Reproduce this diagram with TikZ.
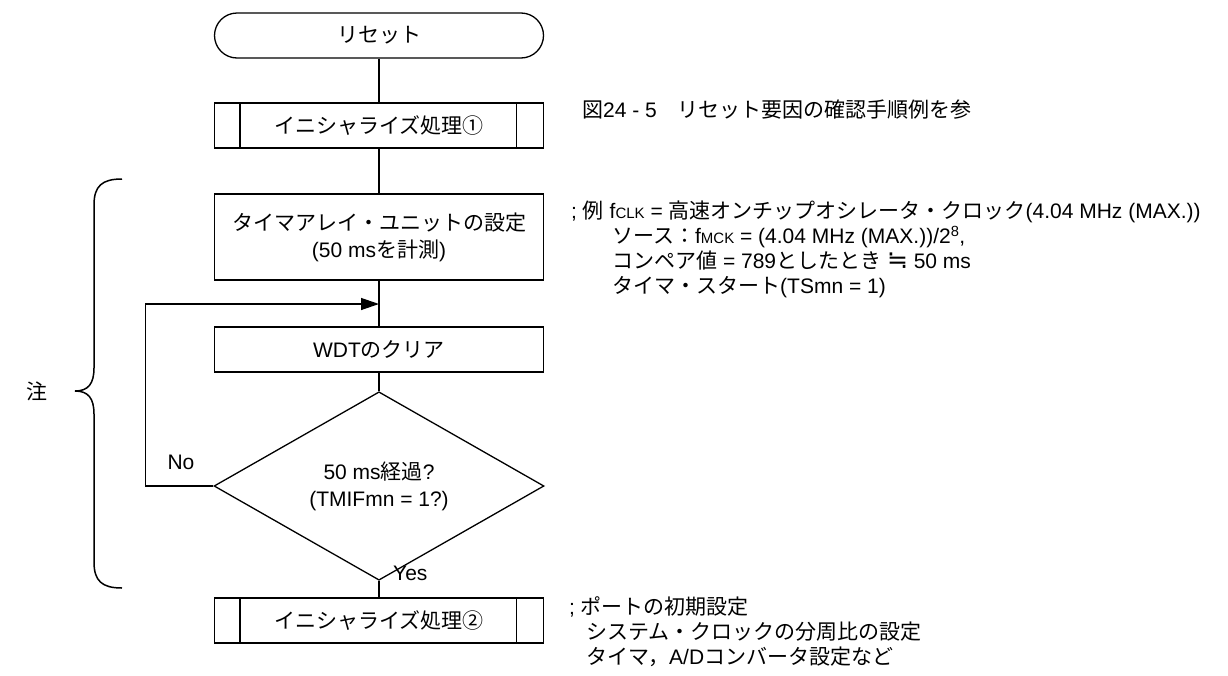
\documentclass[tikz,border=0pt]{standalone}
\usepackage{fontspec}
\setmainfont{Liberation Sans}
\newfontfamily\jpfont{Noto Sans CJK JP}
\newfontfamily\symfont{DejaVu Sans}
\newcommand\jp[1]{{\jpfont #1}}
\newcommand\smallsub[1]{{\fontsize{15}{15}\selectfont #1}}
\usetikzlibrary{shapes.geometric,arrows.meta}

\tikzset{
  flowbox/.style={draw, line width=1.3pt, minimum width=329pt, minimum height=45pt,
    inner sep=2pt, align=center, font=\fontsize{21}{27}\selectfont},
  termbox/.style={flowbox, rounded corners=22.5pt},
  decbox/.style={draw, diamond, line width=1.3pt, minimum width=330pt, minimum height=128pt,
    inner sep=0pt, align=center, font=\fontsize{21}{27}\selectfont},
  flowline/.style={line width=1.3pt},
  lbl/.style={inner sep=0pt, font=\fontsize{21}{25}\selectfont},
  notetext/.style={anchor=west, align=left, inner sep=0pt, font=\fontsize{21}{25}\selectfont},
}

\begin{document}
\begin{tikzpicture}[x=1pt,y=-1pt]
  \useasboundingbox (0,0) rectangle (1228,675);
  % ablauf
  \node[termbox] (reset) at (379,35.5) {\jp{リセット}};
  \node[flowbox] (init1) at (379,125.5) {\jp{イニシャライズ処理①}};
  \node[flowbox, minimum height=86pt] (timer) at (379,237) {\jp{タイマアレイ・ユニットの設定}\\(50 ms\jp{を計測})};
  \coordinate (join) at (379,304);
  \node[flowbox] (wdt) at (379,349.5) {WDT\jp{のクリア}};
  \node[decbox] (check) at (379,486) {50 ms\jp{経過}?\\(TMIFmn = 1?)};
  \node[flowbox] (init2) at (379,620.5) {\jp{イニシャライズ処理②}};
  \foreach \n in {init1,init2} {
    \draw[flowline] ([xshift=26pt]\n.north west) -- ([xshift=26pt]\n.south west);
    \draw[flowline] ([xshift=-28pt]\n.north east) -- ([xshift=-28pt]\n.south east);
  }
  % linien
  \draw[flowline] (reset) -- (init1);
  \draw[flowline] (init1) -- (timer);
  \draw[flowline] (timer) -- (wdt);
  \draw[flowline] (wdt) -- (check);
  \draw[flowline] (check) -- (init2);
  \draw[flowline, -{Triangle[length=18pt,width=12pt]}] (check.west) -- ++(-68,0) |- (join);
  \node[lbl] (nolbl) at (181,462) {No};
  \node[lbl, anchor=west] (yeslbl) at (393,573) {Yes};
  % klammer
  \draw[line width=1.5pt] (122,179) .. controls (102,179) and (94,186) .. (94,205) -- (94,368)
    .. controls (94,384) and (88,391) .. (75,391) .. controls (88,391) and (94,398) .. (94,414)
    -- (94,562) .. controls (94,581) and (102,588) .. (122,588);
  \node[lbl] (note) at (37,391) {\jp{注}};
  % hinweise
  \node[notetext] (ref) at (582,110) {\jp{図}24 - 5\jp{　リセット要因の確認手順例を参}};
  \node[notetext] (tmnote) at (571,249.5) {; \jp{例} f\smallsub{CLK} = \jp{高速オンチップオシレータ・クロック}(4.04 MHz (MAX.))\\
    \hspace*{41pt}\jp{ソース：}f\smallsub{MCK} = (4.04 MHz (MAX.))/2\textsuperscript{8},\\
    \hspace*{41pt}\jp{コンペア値} = 789\jp{としたとき} {\symfont\fontsize{25}{25}\selectfont ≒} 50 ms\\
    \hspace*{41pt}\jp{タイマ・スタート}(TSmn = 1)};
  \node[notetext] (portnote) at (569,632) {; \jp{ポートの初期設定}\\
    \hspace*{17pt}\jp{システム・クロックの分周比の設定}\\
    \hspace*{17pt}\jp{タイマ，}A/D\jp{コンバータ設定など}};
\end{tikzpicture}
\end{document}
